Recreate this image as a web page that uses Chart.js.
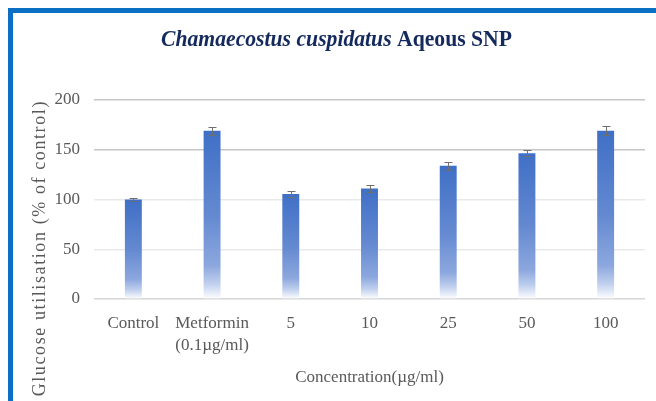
<!DOCTYPE html>
<html>
<head>
<meta charset="utf-8">
<script src="https://cdn.jsdelivr.net/npm/chart.js@4"></script>
<style>
  html, body { margin: 0; padding: 0; background: #ffffff; }
  #frame {
    position: absolute; left: 8px; top: 8px; right: 0; bottom: 0;
    border-left: 5px solid #0b6fc4; border-top: 5px solid #0b6fc4;
  }
  #wrap { position: absolute; left: 0; top: 0; width: 656px; height: 401px; }
</style>
</head>
<body>
<div id="frame"></div>
<div id="wrap"><canvas id="myChart" width="656" height="401"></canvas></div>
<script>
const categories = ['Control', ['Metformin', '(0.1µg/ml)'], '5', '10', '25', '50', '100'];
const glucoseValues = [100, 169, 105.5, 111, 134, 146.5, 169];
const errorValues = [1.5, 3.7, 3, 3.5, 4, 3, 4.5];
const yTicks = [0, 50, 100, 150, 200];

const ctx = document.getElementById('myChart');

// gradient per bar, from the bar top to the zero line
function barGradient(context) {
    const chart = context.chart;
    const y = chart.scales.y;
    if (!chart.chartArea || !y || context.raw === undefined) return '#4472c4';
    const top = y.getPixelForValue(context.raw);
    const base = y.getPixelForValue(0);
    if (!isFinite(top) || !isFinite(base)) return '#4472c4';
    const g = chart.ctx.createLinearGradient(0, top, 0, base);
    g.addColorStop(0, '#3f6fc6');
    g.addColorStop(0.5, '#6489d1');
    g.addColorStop(0.8, '#8ca7de');
    g.addColorStop(0.91, '#c0d0ee');
    g.addColorStop(1, '#ffffff');
    return g;
}

const errorBars = {
    id: 'errorBars',
    afterDatasetsDraw(chart) {
        const c = chart.ctx;
        const y = chart.scales.y;
        const meta = chart.getDatasetMeta(0);
        c.save();
        c.strokeStyle = '#6f6f6f';
        c.lineWidth = 1;
        meta.data.forEach((bar, i) => {
            const x = Math.round(bar.x) + 0.5;
            const hi = Math.round(y.getPixelForValue(glucoseValues[i] + errorValues[i])) + 0.5;
            const lo = Math.round(y.getPixelForValue(glucoseValues[i] - errorValues[i])) + 0.5;
            c.beginPath();
            c.moveTo(x, hi); c.lineTo(x, lo);
            c.moveTo(x - 4, hi); c.lineTo(x + 4, hi);
            c.moveTo(x - 4, lo); c.lineTo(x + 4, lo);
            c.stroke();
        });
        c.restore();
    }
};

const texts = {
    id: 'texts',
    afterDraw(chart) {
        const c = chart.ctx;
        c.save();
        // chart title, mixed italic and upright, a bit condensed
        c.fillStyle = '#14295c';
        c.textBaseline = 'alphabetic';
        const part1 = 'Chamaecostus cuspidatus ';
        const part2 = 'Aqeous SNP';
        const f1 = 'italic bold 23px "Liberation Serif"';
        const f2 = 'bold 23px "Liberation Serif"';
        c.font = f1; const w1 = c.measureText(part1).width;
        c.font = f2; const w2 = c.measureText(part2).width;
        const sx = 351 / (w1 + w2);
        c.translate(161, 46);
        c.scale(sx, 1);
        c.font = f1; c.fillText(part1, 0, 0);
        c.font = f2; c.fillText(part2, w1, 0);
        c.restore();

        // y axis title
        c.save();
        c.font = '18px "Liberation Serif"';
        c.letterSpacing = '1.6px';
        const tw = c.measureText('Glucose utilisation (% of control)').width;
        c.translate(40, 100 + tw / 2);
        c.rotate(-Math.PI / 2);
        c.fillStyle = '#595959';
        c.textAlign = 'center';
        c.textBaseline = 'middle';
        c.fillText('Glucose utilisation (% of control)', 0, 0);
        c.restore();
    }
};

const chart = new Chart(ctx, {
    type: 'bar',
    data: {
        labels: categories,
        datasets: [{
            data: glucoseValues,
            backgroundColor: barGradient,
            borderWidth: 0,
            categoryPercentage: 1,
            barPercentage: 0.215
        }]
    },
    options: {
        responsive: false,
        animation: false,
        layout: { padding: { left: 0, right: 11, top: 100, bottom: 0 } },
        plugins: { legend: { display: false }, title: { display: false }, tooltip: { enabled: false } },
        scales: {
            x: {
                afterFit(scale) { scale.height = 102; },
                grid: { display: false },
                border: { display: false },
                ticks: {
                    color: '#595959',
                    font: { family: 'Liberation Serif', size: 17, lineHeight: 1.3 },
                    padding: 5,
                    maxRotation: 0,
                    autoSkip: false
                },
                title: {
                    display: true,
                    text: 'Concentration(µg/ml)',
                    color: '#595959',
                    font: { family: 'Liberation Serif', size: 17 },
                    padding: { top: 0, bottom: 13 }
                }
            },
            y: {
                min: 0,
                max: 200,
                afterFit(scale) { scale.width = 94; },
                afterBuildTicks(scale) { scale.ticks = yTicks.map(v => ({ value: v })); },
                border: { display: false },
                grid: {
                    drawTicks: false,
                    lineWidth: 1.5,
                    color: c => {
                        const v = c.tick ? c.tick.value : 0;
                        if (v >= 150) return '#c6c6c6';
                        if (v === 0) return '#d6d6d6';
                        return '#e9e9e9';
                    }
                },
                ticks: {
                    color: '#595959',
                    font: { family: 'Liberation Serif', size: 17 },
                    padding: 14
                }
            }
        }
    },
    plugins: [errorBars, texts]
});
</script>
</body>
</html>
